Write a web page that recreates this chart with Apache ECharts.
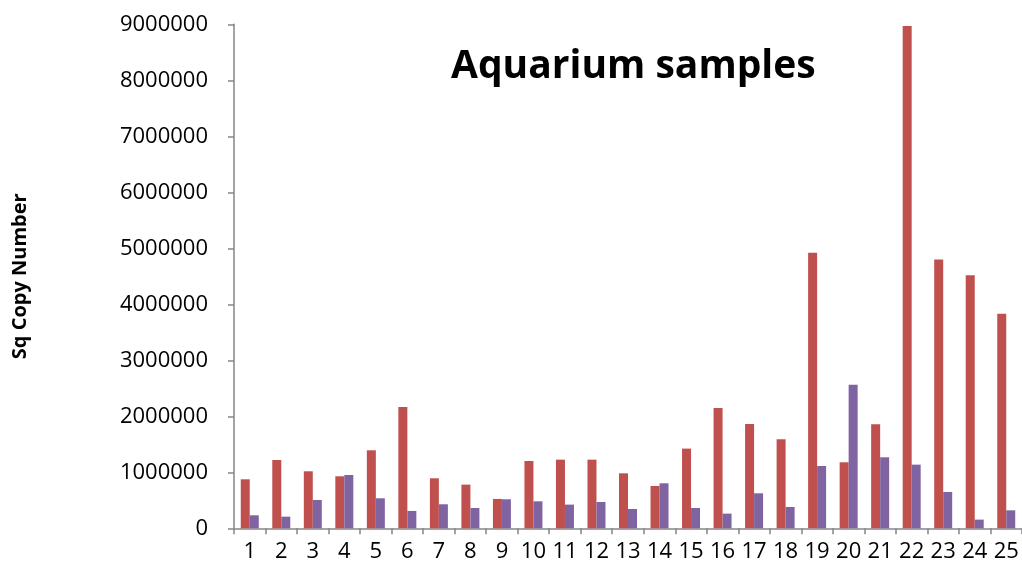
<!DOCTYPE html>
<html><head><meta charset="utf-8">
<script src="https://cdn.jsdelivr.net/npm/echarts@6/dist/echarts.min.js"></script>
<style>html,body{margin:0;padding:0;background:#fff}#c{width:1022px;height:574px}</style>
</head><body><div id="c"></div>
<script>
const categories = ['1','2','3','4','5','6','7','8','9','10','11','12','13','14','15','16','17','18','19','20','21','22','23','24','25'];
const redValues = [875000,1220000,1018000,929000,1393000,2167000,893000,780000,524000,1202000,1226000,1226000,982000,756000,1423000,2149000,1863000,1589000,4920000,1179000,1857000,8970000,4800000,4520000,3830000];
const purpleValues = [232000,208000,506000,952000,536000,310000,429000,363000,518000,482000,423000,470000,345000,804000,363000,262000,625000,381000,1113000,2565000,1268000,1137000,649000,155000,321000];
const yTicks = [0,1000000,2000000,3000000,4000000,5000000,6000000,7000000,8000000,9000000];

const chart = echarts.init(document.getElementById('c'), null, {renderer:'canvas'});
const axisColor = '#868686';
const font = 'Open Sans';
chart.setOption({
  animation:false,
  backgroundColor:'#fff',
  title:{text:'Aquarium samples', left:446, top:42, textStyle:{fontFamily:font, fontWeight:'bold', fontSize:39, color:'#000'}},
  grid:{left:234, top:24.3, bottom:45.7, right:-4},
  xAxis:{type:'category', data:categories,
    axisLine:{lineStyle:{color:axisColor, width:1.5}},
    axisTick:{show:true, alignWithLabel:false, length:6, lineStyle:{color:axisColor, width:1.5}},
    axisLabel:{color:'#000', fontFamily:font, fontSize:22, margin:12, interval:0}},
  yAxis:{type:'value', min:yTicks[0], max:yTicks[yTicks.length-1], interval:1000000,
    name:'Sq Copy Number', nameLocation:'middle', nameGap:204, nameRotate:90,
    nameTextStyle:{fontFamily:font, fontWeight:'bold', fontSize:20, color:'#000'},
    axisLine:{show:true, lineStyle:{color:axisColor, width:1.5}},
    axisTick:{show:true, length:6, lineStyle:{color:axisColor, width:1.5}},
    splitLine:{show:false},
    axisLabel:{color:'#000', fontFamily:font, fontSize:22, margin:26, formatter:function(v){return String(v);}}},
  series:[
    {type:'bar', data:redValues, barWidth:9, barGap:'0%', itemStyle:{color:'#C0504D'}},
    {type:'bar', data:purpleValues, barWidth:9, barGap:'0%', itemStyle:{color:'#8064A2'}}
  ]
});
</script></body></html>
